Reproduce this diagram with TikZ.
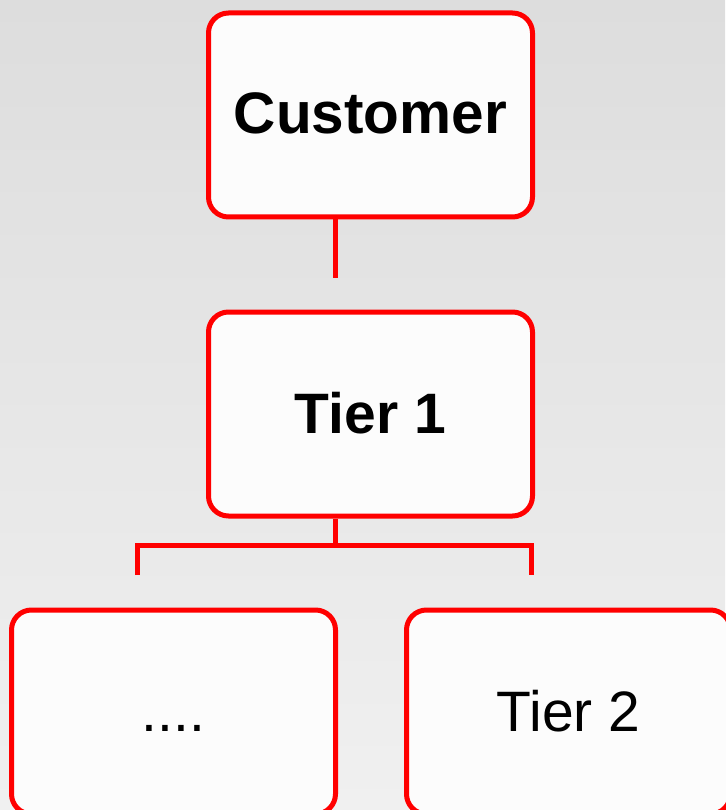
\documentclass[tikz,border=0pt]{standalone}
\usepackage{fontspec}
\setmainfont{Liberation Sans}
\definecolor{bgtop}{RGB}{221,221,221}
\definecolor{bgbot}{RGB}{240,240,240}
\definecolor{boxred}{RGB}{255,0,0}
\definecolor{boxfill}{RGB}{252,252,252}
\tikzset{
  tierbox/.style={draw=boxred, line width=5pt, fill=boxfill, rounded corners=20pt,
    minimum width=324pt, minimum height=204pt, inner sep=0pt, align=center,
    font=\fontsize{57}{60}\selectfont, text height=38pt, text depth=0pt},
  link/.style={draw=boxred, line width=5pt}
}
\begin{document}
\begin{tikzpicture}[x=1pt, y=-1pt]
  \shade[top color=bgtop, bottom color=bgbot] (0,0) rectangle (725,810);
  \useasboundingbox (0,0) rectangle (725,810);
  \node[tierbox] (cust) at (370.5,115) {\fontsize{58.5}{60}\selectfont\bfseries Customer};
  \node[tierbox] (t1) at (370.5,414) {\bfseries Tier 1};
  \node[tierbox] (dots) at (173.5,712) {....};
  \node[tierbox] (t2) at (568.5,712) {Tier 2};
  \coordinate (c1) at (335,278);
  \coordinate (j) at (335,545);
  \coordinate (bl) at (137,575);
  \coordinate (br) at (531,575);
  \draw[link] (cust.south -| c1) -- (c1);
  \draw[link] (t1.south -| j) -- (j);
  \draw[link] (bl) -- (bl |- j) -- (br |- j) -- (br);
\end{tikzpicture}
\end{document}
